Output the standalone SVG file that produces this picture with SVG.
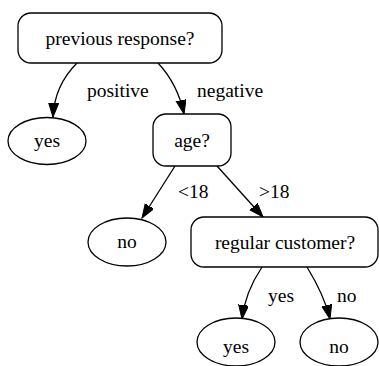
<svg xmlns="http://www.w3.org/2000/svg" width="379" height="366" viewBox="0 0 379 366" font-family="'Liberation Serif', 'DejaVu Serif', serif">
<style>
.n{fill:#fff;stroke:#000;stroke-width:1.3}
.e{fill:none;stroke:#000;stroke-width:1.3}
text{font-family:"Liberation Serif","DejaVu Serif",serif;font-size:19.5px;fill:#000}
.c{text-anchor:middle}
</style>
<defs>
<marker id="ah" markerUnits="userSpaceOnUse" markerWidth="15" markerHeight="11" refX="14" refY="5" orient="auto" viewBox="0 0 15 11">
<path d="M0,0 L14,5 L0,10 z" fill="#000" stroke="#000" stroke-width="1"/>
</marker>
</defs>
<rect width="379" height="366" fill="#fff"/>
<g id="edges">
<path class="e" d="M77,63 C62,78 54,95 53,117" marker-end="url(#ah)"/>
<path class="e" d="M158,63 C172,78 180,95 184,114" marker-end="url(#ah)"/>
<path class="e" d="M175,166 L142,218" marker-end="url(#ah)"/>
<path class="e" d="M217,166 L263,217" marker-end="url(#ah)"/>
<path class="e" d="M262,267 C250,285 244,302 242,319" marker-end="url(#ah)"/>
<path class="e" d="M307,267 C318,285 326,302 330,319" marker-end="url(#ah)"/>
<text x="87" y="97">positive</text>
<text x="197" y="97">negative</text>
<text x="178" y="198">&lt;18</text>
<text x="259" y="198">&gt;18</text>
<text x="268" y="302">yes</text>
<text x="337" y="302">no</text>
</g>
<g id="root">
<rect class="n" x="18" y="13" width="204" height="50" rx="13"/>
<text class="c" x="120" y="45">previous response?</text>
</g>
<g id="yes1">
<ellipse class="n" cx="47" cy="141" rx="39" ry="23.5"/>
<text class="c" x="47" y="147">yes</text>
</g>
<g id="age">
<rect class="n" x="153" y="114" width="78" height="52" rx="13"/>
<text class="c" x="192" y="147">age?</text>
</g>
<g id="no1">
<ellipse class="n" cx="127" cy="242" rx="39" ry="24"/>
<text class="c" x="127" y="248">no</text>
</g>
<g id="regular">
<rect class="n" x="191" y="217" width="187" height="50" rx="13"/>
<text class="c" x="285" y="249">regular customer?</text>
</g>
<g id="yes2">
<ellipse class="n" cx="236" cy="342" rx="39" ry="24"/>
<text class="c" x="236" y="353">yes</text>
</g>
<g id="no2">
<ellipse class="n" cx="339" cy="342" rx="39" ry="24"/>
<text class="c" x="339" y="353">no</text>
</g>
</svg>
